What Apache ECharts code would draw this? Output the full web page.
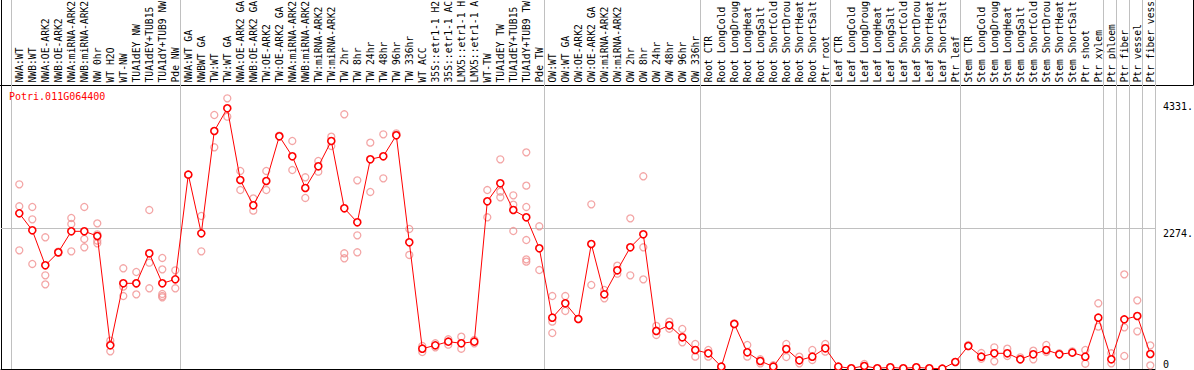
<!DOCTYPE html>
<html><head><meta charset="utf-8">
<script src="https://cdn.jsdelivr.net/npm/echarts@6/dist/echarts.min.js"></script>
<style>html,body{margin:0;padding:0;background:#fff}#c{width:1194px;height:370px}</style>
</head><body><div id="c"></div>
<script>
const geneId = 'Potri.011G064400';

const categories = [
  'NWA:WT','NWB:WT','NWA:OE-ARK2','NWB:OE-ARK2','NWA:miRNA-ARK2','NWB:miRNA-ARK2','NW 0hr','WT H2O','WT-NW','TUA1dEY NW','TUA1dEY+TUB15 NW','TUA1dY+TUB9 NW','Pde NW',
  'NWA:WT GA','NWBWT GA','TW:WT','TW:WT GA','NWA:OE-ARK2 GA','NWB:OE-ARK2 GA','TW:OE-ARK2','TW:OE-ARK2 GA','NWA:miRNA-ARK2 GA','NWB:miRNA-ARK2 GA','TW:miRNA-ARK2','TW:miRNA-ARK2 GA',
  'TW 2hr','TW 8hr','TW 24hr','TW 48hr','TW 96hr','TW 336hr','WT ACC','35S::etr1-1 H2O','35S::etr1-1 ACC','LMX5::etr1-1 H2O','LMX5::etr1-1 ACC','WT-TW','TUA1dEY TW','TUA1dEY+TUB15 TW','TUA1dY+TUB9 TW','Pde TW',
  'OW:WT','OW:WT GA','OW:OE-ARK2','OW:OE-ARK2 GA','OW:miRNA-ARK2','OW:miRNA-ARK2 GA','OW 2hr','OW 8hr','OW 24hr','OW 48hr','OW 96hr','OW 336hr',
  'Root CTR','Root LongCold','Root LongDrought','Root LongHeat','Root LongSalt','Root ShortCold','Root ShortDrought','Root ShortHeat','Root ShortSalt','Ptr root',
  'Leaf CTR','Leaf LongCold','Leaf LongDrought','Leaf LongHeat','Leaf LongSalt','Leaf ShortCold','Leaf ShortDrought','Leaf ShortHeat','Leaf ShortSalt','Ptr leaf',
  'Stem CTR','Stem LongCold','Stem LongDrought','Stem LongHeat','Stem LongSalt','Stem ShortCold','Stem ShortDrought','Stem ShortHeat','Stem ShortSalt','Ptr shoot',
  'Ptr xylem','Ptr phloem','Ptr fiber','Ptr vessel','Ptr fiber vessel'
];

const means = [
  2521,2246,1679,1890,2230,2230,2154,383,1388,1388,1874,1388,1452,
  3148,2197,3855,4222,3061,2651,3045,3769,3445,2932,3283,3693,2602,
  2376,3396,3445,3785,2052,329,383,443,416,443,2716,3007,2575,2457,1955,
  831,1064,810,2025,1209,1598,1971,2181,616,707,513,308,
  254,38,729,270,130,38,324,140,200,335,
  38,11,49,11,27,11,27,11,5,113,
  373,200,254,254,157,238,308,238,265,200,
  831,157,804,858,243
];

const replicates = [
  [2991,2635,1922],[2624,2424,1701],[2133,1517,1371],[1880,1900],[2446,2349,1906],[2624,2106,1971],
  [2359,2181,2079,2036],[459,286,400],[1631,1334,1182],[1571,1209,1388],[2575,1722,1307],
  [1798,1614,1215,1182,1161],[1598,1307],
  [3148],[2478,1906],[4114,3591],[4384,4087],[3207,2899],[2764,2565],[3207,2899],[3769,3780],
  [3693,3223],[3105,2770],[3369,3196],[3763,3612],[4125,1874,1793],
  [3056,2165,1890],[3666,2867],[3801,3088],[3817,3795],[2268,1847],[373,275],[416,351],[481,394],
  [524,329],[470,416],[2899,2457],[3396,2872,2781],[2813,2662,2235],[3509,2970,2624,2089,1776,1739],[2311,1603],
  [1182,767,583],[1182,940],[810],[2667,1361],[1280,1145],[1674,1544],[2440,1517],[3121,1971,1452],
  [697,551],[767,653],[648,432],[405,200],
  [308,200],[38,30],[729,740],[389,200],[157,92],[60,38],[405,194],[200,92],[308,146],[405,281],
  [38],[11],[81],[11],[27],[11],[27],[11],[5],[113],
  [389,373],[259,167],[351,124],[329,211],[189,157],[297,157],[389,275],[254],[286],[308,86],
  [1064,686],[254,92],[1533,675,211],[1112,610],[383,59]
];

// last category index of each group (separator drawn after it)
const groupEnds = [-1, 12, 40, 52, 62, 72, 83, 84, 85, 86, 87];
const refLineValue = 2274;
const yTickTop = [2274, 4331];
const yTickBottom = [0];
const yTickText = {0: '0', 2274: '2274.', 4331: '4331.'};
const labelMaxChars = 14;

// layout
const W = 1194;
const FONT = 'DejaVu Sans Mono';
const x0 = 19.3, step = 13;
const plotL = 1, plotR = 1155, plotB = 369, headerB = 85;
const pxPerUnit = 140.4 / 2274;
const yMax = plotB / pxPerUnit;
const sepOffset = 0.36;

const repData = [];
replicates.forEach((arr, i) => arr.forEach(v => repData.push([i, v])));

const hidden = {show: false};
const black = {show: true, onZero: false, lineStyle: {color: '#000', width: 1}};
const chart = echarts.init(document.getElementById('c'), null, {renderer: 'svg'});
chart.setOption({
  animation: false,
  backgroundColor: '#fff',
  title: {
    text: geneId, left: 9, top: 91, padding: 0,
    textStyle: {color: '#ff0000', fontFamily: FONT, fontSize: 10, fontWeight: 'normal'}
  },
  grid: [
    {left: plotL, right: W - plotR, top: 0, bottom: 370 - plotB, containLabel: false, outerBoundsMode: 'none'},
    {left: 0, right: 1, top: 0, height: headerB, containLabel: false, outerBoundsMode: 'none'}
  ],
  xAxis: [
    {gridIndex: 0, type: 'value', min: (plotL - x0) / step, max: (plotR - x0) / step, position: 'bottom',
     axisLine: black, axisTick: hidden, axisLabel: hidden, splitLine: hidden},
    {gridIndex: 1, type: 'value', min: (0 - x0) / step, max: (W - 1 - x0) / step, position: 'bottom',
     axisLine: black, axisTick: hidden, splitLine: hidden,
     axisLabel: {show: true, inside: true, customValues: categories.map((c, i) => i),
       formatter: v => categories[Math.round(v)].slice(0, labelMaxChars),
       rotate: 90, margin: 2.5, fontFamily: FONT, fontSize: 9.7, color: '#000', hideOverlap: false}}
  ],
  yAxis: [
    {gridIndex: 0, type: 'value', min: 0, max: yMax, position: 'left',
     axisLine: black, axisTick: hidden, axisLabel: hidden, splitLine: hidden},
    {gridIndex: 0, type: 'value', min: 0, max: yMax, position: 'right',
     axisLine: hidden, axisTick: hidden, splitLine: hidden,
     axisLabel: {show: true, customValues: yTickTop, formatter: v => yTickText[v], margin: 8, align: 'left', verticalAlign: 'top',
       fontFamily: FONT, fontSize: 10, color: '#000'}},
    {gridIndex: 0, type: 'value', min: 0, max: yMax, position: 'right',
     axisLine: hidden, axisTick: hidden, splitLine: hidden,
     axisLabel: {show: true, customValues: yTickBottom, formatter: v => yTickText[v], margin: 8, align: 'left', verticalAlign: 'bottom',
       fontFamily: FONT, fontSize: 10, color: '#000'}},
    {gridIndex: 1, type: 'value', position: 'right', min: 0, max: 1,
     axisLine: black, axisTick: hidden, axisLabel: hidden, splitLine: hidden}
  ],
  series: [
    {
      type: 'scatter', xAxisIndex: 0, yAxisIndex: 0, z: 2,
      data: repData, symbol: 'circle', symbolSize: 7,
      itemStyle: {color: 'rgba(255,255,255,0)', borderColor: '#f09090', borderWidth: 1.3},
      markLine: {
        silent: true, symbol: 'none', label: {show: false}, z: 1,
        lineStyle: {color: '#c0c0c0', width: 1, type: 'solid'},
        data: groupEnds.map(k => ({xAxis: k + sepOffset})).concat([{yAxis: refLineValue}])
      }
    },
    {
      type: 'line', xAxisIndex: 0, yAxisIndex: 0, z: 3,
      data: means.map((v, i) => [i, v]), symbol: 'circle', symbolSize: 7, showSymbol: true,
      lineStyle: {color: '#ff0000', width: 1},
      itemStyle: {color: '#ffffff', borderColor: '#ff0000', borderWidth: 1.6}
    }
  ]
});
</script></body></html>
